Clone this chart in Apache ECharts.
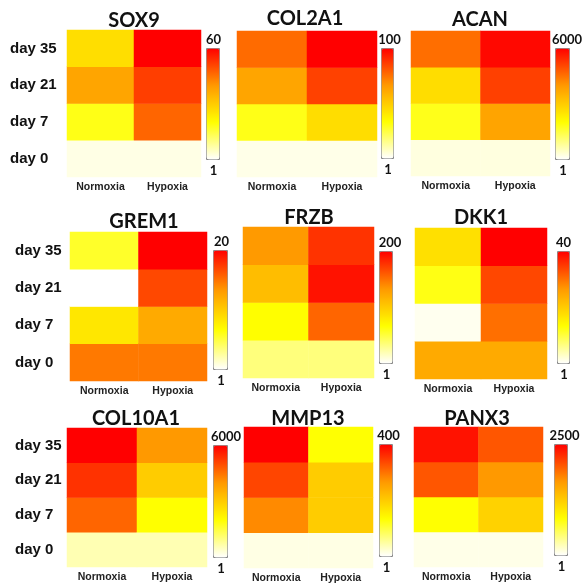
<!DOCTYPE html>
<html><head><meta charset="utf-8">
<script src="https://cdn.jsdelivr.net/npm/echarts@6/dist/echarts.min.js"></script>
<style>html,body{margin:0;padding:0;background:#fff}#c{width:583px;height:585px}</style>
</head><body><div id="c"></div>
<script>
// ---------- data ----------
const conditions = ['Normoxia', 'Hypoxia'];
const days = ['day 0', 'day 7', 'day 21', 'day 35'];
const genes = ['SOX9', 'COL2A1', 'ACAN', 'GREM1', 'FRZB', 'DKK1', 'COL10A1', 'MMP13', 'PANX3'];
const scaleMax = [60, 100, 6000, 20, 200, 40, 6000, 400, 2500];
const scaleMinLabel = '1';
// values in order: day 0, day 7, day 21, day 35
const sox9Normoxia = [3, 19, 38, 27];
const sox9Hypoxia = [3, 47, 52, 60];
const col2a1Normoxia = [4, 31, 63, 77];
const col2a1Hypoxia = [4, 45, 86, 100];
const acanNormoxia = [250, 1800, 2660, 4560];
const acanHypoxia = [250, 3780, 5160, 5900];
const grem1Normoxia = [15, 8.8, 1, 6.3];
const grem1Hypoxia = [15, 12.6, 17, 20];
const frzbNormoxia = [35, 68, 110, 133];
const frzbHypoxia = [35, 156, 192, 178];
const dkk1Normoxia = [24.8, 1.8, 13, 18];
const dkk1Hypoxia = [24.8, 30.6, 34, 40];
const col10a1Normoxia = [600, 4680, 5340, 6000];
const col10a1Hypoxia = [600, 2000, 3000, 4000];
const mmp13Normoxia = [15, 280, 340, 400];
const mmp13Hypoxia = [15, 200, 200, 133];
const panx3Normoxia = [75, 830, 2030, 2400];
const panx3Hypoxia = [75, 1200, 1667, 2030];

const geneValues = [
  [sox9Normoxia, sox9Hypoxia], [col2a1Normoxia, col2a1Hypoxia], [acanNormoxia, acanHypoxia],
  [grem1Normoxia, grem1Hypoxia], [frzbNormoxia, frzbHypoxia], [dkk1Normoxia, dkk1Hypoxia],
  [col10a1Normoxia, col10a1Hypoxia], [mmp13Normoxia, mmp13Hypoxia], [panx3Normoxia, panx3Hypoxia]
];

// ---------- layout ----------
const grids = [
  [67, 30, 134, 147], [237, 31, 140, 146], [411, 31, 139, 145],
  [70, 232, 137, 149], [243, 227, 131, 151], [415, 228, 132, 151],
  [67, 428, 140, 139], [244, 427, 129, 141], [414, 427, 129, 140]
];
const bars = [
  [206, 48, 13, 111], [381, 48, 12, 110], [555, 48, 14, 111],
  [213, 250, 14, 119], [379, 251, 13, 112], [557, 251, 12, 112],
  [213, 445, 14, 112], [379, 444, 13, 112], [554, 444, 13, 111]
];
const maxLabelX = [213.5, 389.5, 567, 221.5, 390, 563.5, 226, 388.5, 564.5];
const titlePos = [
  [134, 21], [305, 19], [480, 20],
  [144, 222], [309, 218], [481, 218],
  [136, 419], [308, 419], [477, 419]
];
const rowLabelLeft = [10, null, null, 15, null, null, 15, null, null];
const palette = ['#ffffff', '#ffff00', '#ff9900', '#ff0000'];

const option = {
  backgroundColor: '#fff',
  animation: false,
  grid: [], xAxis: [], yAxis: [], series: [], visualMap: [], graphic: []
};

genes.forEach((g, i) => {
  const [gl, gt, gw, gh] = grids[i];
  option.grid.push({ left: gl, top: gt, width: gw, height: gh, containLabel: false });
  option.xAxis.push({
    type: 'category', gridIndex: i, data: conditions,
    axisLine: { show: false }, axisTick: { show: false }, splitLine: { show: false },
    axisLabel: { margin: 5, fontFamily: 'Liberation Sans', fontWeight: 'bold', fontSize: 10.5, color: '#222' }
  });
  option.yAxis.push({
    type: 'category', gridIndex: i, data: days,
    axisLine: { show: false }, axisTick: { show: false }, splitLine: { show: false },
    axisLabel: rowLabelLeft[i] === null ? { show: false } : {
      show: true, align: 'left', margin: gl - rowLabelLeft[i],
      fontFamily: 'Liberation Sans', fontWeight: 'bold', fontSize: 15, color: '#111'
    }
  });
  const data = [];
  geneValues[i].forEach((arr, xi) => arr.forEach((v, yi) => data.push([xi, yi, v])));
  option.series.push({
    type: 'heatmap', xAxisIndex: i, yAxisIndex: i, data: data,
    itemStyle: { borderWidth: 0 }, emphasis: { disabled: true }
  });
  const [bl, bt, bw, bh] = bars[i];
  option.visualMap.push({
    type: 'continuous', seriesIndex: i, min: 1, max: scaleMax[i],
    left: bl, top: bt, itemWidth: bw, itemHeight: bh, padding: 0,
    borderColor: '#888', borderWidth: 1, calculable: false, hoverLink: false,
    inRange: { color: palette }
  });
  option.graphic.push({
    type: 'text', x: titlePos[i][0], y: titlePos[i][1], z: 100,
    style: { text: g, fill: '#111', font: 'bold 20px Lato', textAlign: 'center', textVerticalAlign: 'middle' }
  });
  option.graphic.push({
    type: 'text', x: maxLabelX[i], y: bt - 2, z: 100,
    style: { text: String(scaleMax[i]), fill: '#111', font: 'bold 13px Lato', textAlign: 'center', textVerticalAlign: 'bottom' }
  });
  option.graphic.push({
    type: 'text', x: bl + bw / 2 + 1, y: bt + bh + 5, z: 100,
    style: { text: scaleMinLabel, fill: '#111', font: 'bold 13px Lato', textAlign: 'center', textVerticalAlign: 'top' }
  });
});

const chart = echarts.init(document.getElementById('c'), null, { renderer: 'canvas' });
chart.setOption(option);
</script>
</body></html>
